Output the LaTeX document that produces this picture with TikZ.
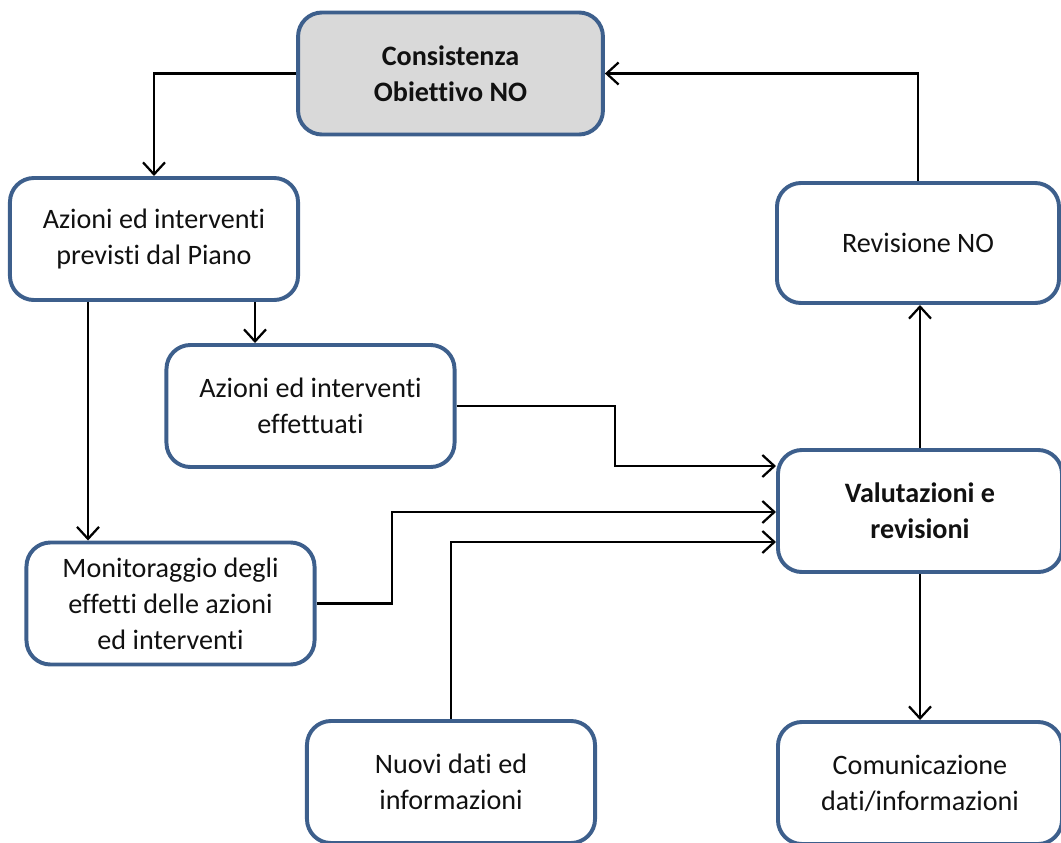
\documentclass[tikz,border=0pt]{standalone}
\usepackage{fontspec}
\setmainfont[Ligatures={NoCommon}]{Carlito}
\usetikzlibrary{arrows.meta}
\definecolor{boxblue}{HTML}{3D5F8C}
\definecolor{boxgray}{HTML}{D9D9D9}
\definecolor{txt}{HTML}{111111}
\tikzset{
	box/.style={draw=boxblue, line width=2.8pt, rounded corners=0.6cm, align=center,
		minimum width=7.2cm, minimum height=3.05cm, text=txt,
		font=\fontsize{20}{25.6}\selectfont},
	arr/.style={-{Straight Barb[length=0.3cm,width=0.55cm]}, line width=1.6pt, black},
}
\begin{document}
\begin{tikzpicture}[x=0.025cm,y=-0.025cm]
			\useasboundingbox (0,0) rectangle (1061,843);
			% caselle
			\node[box, fill=boxgray, minimum width=7.62cm, font=\fontsize{20}{25.6}\selectfont\bfseries] (cons) at (450.5,73.5){Consistenza\\Obiettivo NO};
			\node[box] (piano) at (154,239){Azioni ed interventi\\previsti dal Piano};
			\node[box, minimum width=7.05cm, minimum height=3cm] (revis) at (918,243){Revisione NO};
			\node[box] (eff) at (310.5,406){Azioni ed interventi\\effettuati};
			\node[box, minimum width=7.1cm, font=\fontsize{20}{25.6}\selectfont\bfseries] (valut) at (920,511){Valutazioni e\\revisioni};
			\node[box] (monit) at (170.5,603.5){Monitoraggio degli\\effetti delle azioni\\ed interventi};
			\node[box] (nuovi) at (451,782){Nuovi dati ed\\informazioni};
			\node[box, minimum width=7.1cm] (comun) at (920,783){Comunicazione\\dati/informazioni};
			% frecce
			\draw[arr] (cons.west) -| (piano.north);
			\draw[arr] (revis.north) |- (cons.east);
			\draw[arr] (piano.south -| 255,0) -- (eff.north -| 255,0);
			\draw[arr] (piano.south -| 88,0) -- (monit.north -| 88,0);
			\draw[arr] (eff.east) -| (615,466) -- (valut.west |- 0,466);
			\draw[arr] (monit.east) -| (392,512) -- (valut.west |- 0,512);
			\draw[arr] (nuovi.north) |- (valut.west |- 0,542);
			\draw[arr] (valut.north) -- (valut.north |- revis.south);
			\draw[arr] (valut.south) -- (comun.north);
\end{tikzpicture}
\end{document}
